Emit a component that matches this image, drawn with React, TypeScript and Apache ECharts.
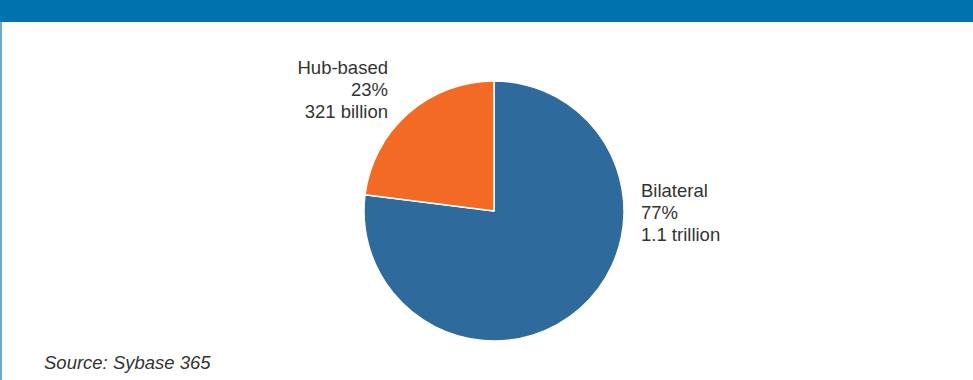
import React, { useEffect, useRef } from "react";
import * as echarts from "echarts";

const categories = ["Bilateral", "Hub-based"];
const shares = [77, 23];
const volumes = ["1.1 trillion", "321 billion"];
const colors = ["#2E6A9C", "#F26A24"];
const sourceText = "Source: Sybase 365";

export default function App() {
  const ref = useRef<HTMLDivElement>(null);
  useEffect(() => {
    if (!ref.current) return;
    const chart = echarts.init(ref.current, null, { renderer: "svg" });
    const labelPos = [
      { x: 641, y: 212, align: "left" },
      { x: 388, y: 89, align: "right" },
    ];
    chart.setOption({
      animation: false,
      backgroundColor: "#ffffff",
      graphic: [
        { type: "rect", left: 0, top: 0, shape: { width: 973, height: 22 }, style: { fill: "#0072AE" } },
        { type: "rect", left: 0, top: 22, shape: { width: 2, height: 358 }, style: { fill: "#6FA7D3" } },
        {
          type: "text",
          left: 44,
          top: 353,
          style: {
            text: sourceText,
            font: "italic 18.5px 'Liberation Sans', Arial, sans-serif",
            fill: "#333333",
          },
        },
      ],
      series: [
        {
          type: "pie",
          center: [494, 211],
          radius: 130,
          startAngle: 90,
          clockwise: true,
          itemStyle: { borderColor: "#ffffff", borderWidth: 1.5 },
          labelLine: { show: false },
          label: {
            show: true,
            position: "outside",
            fontFamily: "'Liberation Sans', Arial, sans-serif",
            fontSize: 18.5,
            lineHeight: 22,
            color: "#333333",
            formatter: (p: any) => `${p.name}\n${p.value}%\n${volumes[p.dataIndex]}`,
          },
          labelLayout: (params: any) => {
            const lp = labelPos[params.dataIndex];
            return { x: lp.x, y: lp.y, align: lp.align, verticalAlign: "middle" };
          },
          emphasis: { disabled: true },
          data: categories.map((c, i) => ({
            name: c,
            value: shares[i],
            itemStyle: { color: colors[i] },
            label: { align: labelPos[i].align },
          })),
        },
      ],
    });
    return () => chart.dispose();
  }, []);
  return (
    <div
      ref={ref}
      style={{ position: "fixed", left: 0, top: 0, width: 973, height: 380 }}
    />
  );
}
